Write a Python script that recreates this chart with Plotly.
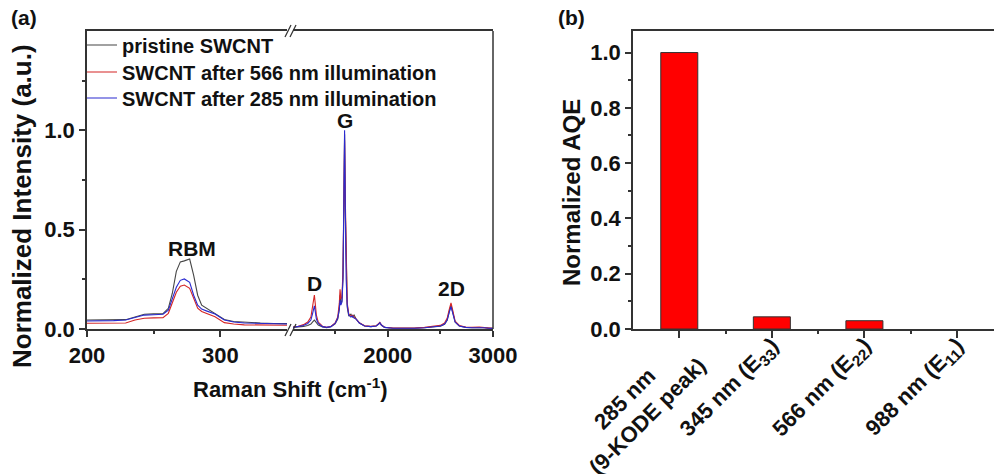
import plotly.graph_objects as go

# ---------------- data: panel (a) Raman spectra ----------------
series_names = ["pristine SWCNT", "SWCNT after 566 nm illumination", "SWCNT after 285 nm illumination"]
series_colors = ["#454545", "#d42525", "#2a2ad0"]

# low-wavenumber (RBM) segment
x_low = [200, 210, 220, 229, 236, 243, 250, 257, 261, 264, 267, 270, 273, 277, 280, 283,
         286, 290, 296, 303, 310, 318, 330, 340, 350]
y_low_pristine = [0.045, 0.045, 0.045, 0.047, 0.060, 0.074, 0.076, 0.077, 0.104, 0.180, 0.290,
                  0.338, 0.343, 0.352, 0.270, 0.170, 0.120, 0.104, 0.078, 0.048, 0.038, 0.034,
                  0.030, 0.028, 0.027]
y_low_566 = [0.029, 0.029, 0.029, 0.030, 0.045, 0.054, 0.056, 0.057, 0.079, 0.130, 0.185,
             0.215, 0.221, 0.205, 0.150, 0.105, 0.088, 0.078, 0.062, 0.032, 0.025, 0.021,
             0.020, 0.019, 0.019]
y_low_285 = [0.040, 0.040, 0.042, 0.045, 0.058, 0.070, 0.072, 0.074, 0.095, 0.150, 0.210,
             0.245, 0.252, 0.235, 0.170, 0.120, 0.100, 0.090, 0.075, 0.045, 0.035, 0.030,
             0.027, 0.025, 0.025]

# high-wavenumber (D, G, 2D) segment
x_high = [1100, 1150, 1200, 1240, 1270, 1285, 1295, 1303, 1311, 1322, 1340, 1380, 1420, 1460,
          1500, 1525, 1540, 1547, 1555, 1565, 1575, 1583, 1590, 1597, 1605, 1615, 1630, 1650,
          1665, 1680, 1700, 1730, 1780, 1840, 1890, 1915, 1925, 1940, 1970, 2050, 2150, 2250,
          2350, 2420, 2460, 2500, 2540, 2565, 2585, 2601, 2615, 2640, 2680, 2740, 2800, 2870,
          2920, 2960, 3000]
y_high_pristine = [0.008, 0.010, 0.013, 0.018, 0.025, 0.035, 0.042, 0.045, 0.040, 0.030, 0.020,
                   0.010, 0.007, 0.011, 0.026, 0.050, 0.100, 0.170, 0.130, 0.140, 0.270, 0.600,
                   0.980, 0.600, 0.240, 0.110, 0.065, 0.075, 0.060, 0.070, 0.050, 0.030, 0.015,
                   0.012, 0.015, 0.024, 0.030, 0.019, 0.008, 0.004, 0.003, 0.004, 0.006, 0.011,
                   0.012, 0.014, 0.024, 0.045, 0.090, 0.120, 0.090, 0.036, 0.015, 0.008, 0.006,
                   0.008, 0.006, 0.004, 0.003]
y_high_566 = [0.010, 0.014, 0.022, 0.035, 0.060, 0.110, 0.155, 0.171, 0.130, 0.070, 0.035,
              0.014, 0.009, 0.013, 0.030, 0.060, 0.130, 0.200, 0.150, 0.160, 0.300, 0.620,
              0.950, 0.650, 0.270, 0.130, 0.075, 0.065, 0.070, 0.060, 0.052, 0.032, 0.016,
              0.013, 0.016, 0.027, 0.033, 0.021, 0.009, 0.005, 0.004, 0.005, 0.008, 0.014,
              0.014, 0.018, 0.030, 0.055, 0.100, 0.132, 0.100, 0.040, 0.018, 0.010, 0.008,
              0.010, 0.007, 0.005, 0.004]
y_high_285 = [0.008, 0.012, 0.018, 0.028, 0.045, 0.075, 0.105, 0.116, 0.090, 0.050, 0.028,
              0.012, 0.008, 0.012, 0.028, 0.055, 0.100, 0.146, 0.120, 0.135, 0.250, 0.600,
              1.000, 0.620, 0.250, 0.120, 0.070, 0.060, 0.065, 0.055, 0.050, 0.030, 0.015,
              0.012, 0.015, 0.025, 0.032, 0.020, 0.008, 0.004, 0.003, 0.004, 0.006, 0.012,
              0.012, 0.015, 0.025, 0.045, 0.085, 0.112, 0.085, 0.035, 0.015, 0.008, 0.006,
              0.008, 0.006, 0.004, 0.003]

low_sets = [y_low_pristine, y_low_566, y_low_285]
high_sets = [y_high_pristine, y_high_566, y_high_285]

# peak labels
peak_labels = ["RBM", "D", "G", "2D"]
peak_x = [279, 1300, 1590, 2601]
peak_y = [0.407, 0.231, 1.05, 0.206]
peak_axis = ["x", "x2", "x2", "x2"]

# ---------------- data: panel (b) AQE bars ----------------
NB = "\u00a0"
categories = ["285 nm" + NB * 7 + "<br>(9-KODE peak)", "345 nm (E<sub>33</sub>)",
              "566 nm (E<sub>22</sub>)", "988 nm (E<sub>11</sub>)"]
aqe_values = [1.0, 0.044, 0.030, 0.0]

W, H = 994, 474
FONT = "Liberation Sans, Arial, sans-serif"
AX = "#333333"


def fx(px):
    return px / W


def fy(py):
    return 1 - py / H


fig = go.Figure()

legend_ids = ["legend", "legend2", "legend3"]
legend_rows = [45, 72, 98]   # pixel rows of the legend entries

for i, name in enumerate(series_names):
    fig.add_trace(go.Scatter(x=x_low, y=low_sets[i], mode="lines", name=name,
                             legendgroup=name, showlegend=True, legend=legend_ids[i],
                             line=dict(color=series_colors[i], width=1.1),
                             xaxis="x", yaxis="y"))
    fig.add_trace(go.Scatter(x=x_high, y=high_sets[i], mode="lines", name=name,
                             legendgroup=name, showlegend=False, legend=legend_ids[i],
                             line=dict(color=series_colors[i], width=1.1),
                             xaxis="x2", yaxis="y"))

fig.add_trace(go.Bar(x=list(range(len(categories))), y=aqe_values, width=0.4,
                     marker=dict(color="#ff0000",
                                 line=dict(color="#333333",
                                           width=[1 if v > 0 else 0 for v in aqe_values])),
                     showlegend=False, xaxis="x3", yaxis="y2"))

ydom = [fy(329), fy(31)]
common_axis = dict(showline=True, linecolor=AX, linewidth=1.5, ticks="outside",
                   tickcolor=AX, tickwidth=1.5, showgrid=False, zeroline=False,
                   automargin=False, tickfont=dict(size=22, family=FONT, color="#111"))
minor_style = dict(ticks="outside", tickcolor=AX, tickwidth=1.5, ticklen=3)

legend_style = dict(xanchor="left", yanchor="middle", bgcolor="rgba(0,0,0,0)", borderwidth=0,
                    font=dict(size=20, family=FONT, color="#111"), itemwidth=30)

fig.update_layout(
    width=W, height=H,
    margin=dict(l=0, r=0, t=0, b=0),
    paper_bgcolor="white", plot_bgcolor="white",
    font=dict(family=FONT, color="#111", weight="bold"),
    xaxis=dict(domain=[fx(87), fx(287)], range=[200, 350], anchor="y",
               tickvals=[200, 300], ticklen=6, mirror=True,
               minor=dict(tickvals=[250], **minor_style), **common_axis),
    xaxis2=dict(domain=[fx(293), fx(493)], range=[1100, 3000], anchor="y",
                tickvals=[2000, 3000], ticklen=6, mirror=True,
                minor=dict(tickvals=[1500, 2500], **minor_style), **common_axis),
    yaxis=dict(domain=ydom, range=[0, 1.5], anchor="x",
               tickvals=[0, 0.5, 1.0], tickformat=".1f", ticklen=6,
               minor=dict(tickvals=[0.25, 0.75, 1.25], **minor_style), **common_axis),
    xaxis3=dict(domain=[fx(633), 1.0], range=[-0.5, 3.4], anchor="y2",
                tickvals=list(range(len(categories))), ticktext=categories, tickangle=-45,
                ticklen=7, mirror=True, ticklabelstandoff=-14,
                minor=dict(tickvals=[0.5, 1.5, 2.5], **minor_style), **common_axis),
    yaxis2=dict(domain=ydom, range=[0, 1.078], anchor="x3",
                dtick=0.2, tickformat=".1f", ticklen=6,
                minor=dict(dtick=0.1, **minor_style), **common_axis),
    legend=dict(x=fx(82), y=fy(legend_rows[0]), **legend_style),
    legend2=dict(x=fx(82), y=fy(legend_rows[1]), **legend_style),
    legend3=dict(x=fx(82), y=fy(legend_rows[2]), **legend_style),
)

# axis titles (placed as annotations to match the original positions)
fig.add_annotation(text="Raman Shift (cm<sup>-1</sup>)", xref="paper", yref="paper",
                   x=fx(290), y=fy(388), showarrow=False, xanchor="center", yanchor="middle",
                   font=dict(size=22, family=FONT, color="#111"))
fig.add_annotation(text="Normalized Intensity (a.u.)", xref="paper", yref="paper",
                   x=fx(22), y=fy(206), showarrow=False, textangle=-90,
                   xanchor="center", yanchor="middle",
                   font=dict(size=26, family=FONT, color="#111"))
fig.add_annotation(text="Normalized AQE", xref="paper", yref="paper",
                   x=fx(571), y=fy(193), showarrow=False, textangle=-90,
                   xanchor="center", yanchor="middle",
                   font=dict(size=24, family=FONT, color="#111"))

# panel labels
fig.add_annotation(text="(a)", xref="paper", yref="paper", x=fx(9), y=fy(18),
                   showarrow=False, xanchor="left", yanchor="middle",
                   font=dict(size=21, family=FONT, color="#111"))
fig.add_annotation(text="(b)", xref="paper", yref="paper", x=fx(556), y=fy(18),
                   showarrow=False, xanchor="left", yanchor="middle",
                   font=dict(size=21, family=FONT, color="#111"))

# peak labels
for lab, px_, py_, ax in zip(peak_labels, peak_x, peak_y, peak_axis):
    fig.add_annotation(text=lab, xref=ax, yref="y", x=px_, y=py_, showarrow=False,
                       xanchor="center", yanchor="middle",
                       font=dict(size=21, family=FONT, color="#111"))

# right frame line of panel (a)
fig.add_shape(type="line", xref="paper", yref="paper", x0=fx(493), x1=fx(493),
              y0=fy(329), y1=fy(31), line=dict(color=AX, width=1.5))

# axis-break marks "//"
for base_y in (330, 31):
    for off in (0, 5):
        fig.add_shape(type="line", xref="paper", yref="paper",
                      x0=fx(285 + off), y0=fy(base_y + 6), x1=fx(291 + off), y1=fy(base_y - 6),
                      line=dict(color=AX, width=1.3))

fig.write_html("out.html")
